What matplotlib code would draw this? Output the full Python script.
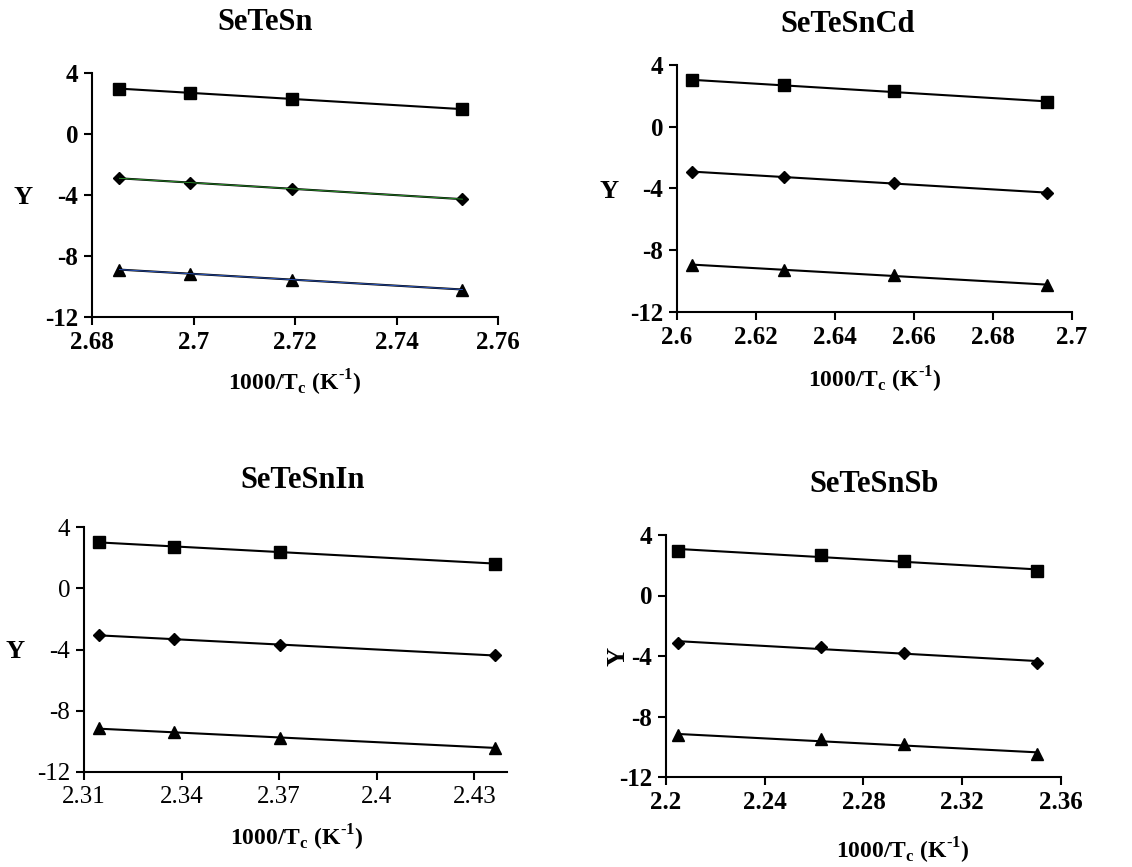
import numpy as np
import matplotlib
matplotlib.use('Agg')
import matplotlib.pyplot as plt

plt.rcParams['font.family'] = ['Liberation Serif', 'DejaVu Serif']
plt.rcParams['mathtext.fontset'] = 'custom'
plt.rcParams['mathtext.rm'] = 'Liberation Serif'
plt.rcParams['mathtext.bf'] = 'Liberation Serif:bold'

TITLES = ['SeTeSn', 'SeTeSnCd', 'SeTeSnIn', 'SeTeSnSb']

# 1000/Tc values per panel
X_SN = [2.6854, 2.6994, 2.7195, 2.7530]
X_CD = [2.6037, 2.6272, 2.6549, 2.6937]
X_IN = [2.3145, 2.3376, 2.3702, 2.4363]
X_SB = [2.2047, 2.2629, 2.2963, 2.3503]

# Y values: square, diamond, triangle series
SQ_SN = [2.98, 2.69, 2.30, 1.63]
DI_SN = [-2.91, -3.19, -3.58, -4.28]
TR_SN = [-8.90, -9.15, -9.55, -10.20]

SQ_CD = [3.01, 2.69, 2.30, 1.61]
DI_CD = [-2.94, -3.24, -3.63, -4.30]
TR_CD = [-8.97, -9.25, -9.60, -10.27]

SQ_IN = [3.00, 2.72, 2.37, 1.61]
DI_IN = [-3.07, -3.31, -3.71, -4.38]
TR_IN = [-9.15, -9.41, -9.78, -10.41]

SQ_SB = [2.97, 2.68, 2.29, 1.63]
DI_SB = [-3.14, -3.38, -3.78, -4.44]
TR_SB = [-9.25, -9.52, -9.85, -10.46]

X_TICKS = [
    [2.68, 2.70, 2.72, 2.74, 2.76],
    [2.60, 2.62, 2.64, 2.66, 2.68, 2.70],
    [2.31, 2.34, 2.37, 2.40, 2.43],
    [2.20, 2.24, 2.28, 2.32, 2.36],
]
X_TICKLABELS = [
    ['2.68', '2.7', '2.72', '2.74', '2.76'],
    ['2.6', '2.62', '2.64', '2.66', '2.68', '2.7'],
    ['2.31', '2.34', '2.37', '2.4', '2.43'],
    ['2.2', '2.24', '2.28', '2.32', '2.36'],
]
X_LIMS = [(2.68, 2.76), (2.60, 2.70), (2.31, 2.44), (2.20, 2.36)]
Y_TICKS = [4, 0, -4, -8, -12]

XS = [X_SN, X_CD, X_IN, X_SB]
SERIES = [
    [SQ_SN, DI_SN, TR_SN],
    [SQ_CD, DI_CD, TR_CD],
    [SQ_IN, DI_IN, TR_IN],
    [SQ_SB, DI_SB, TR_SB],
]

W, H = 1132, 867
AX_BOXES = [  # left, top, right, bottom in pixels from top-left
    (92, 73, 498, 317),
    (677, 65, 1072, 312),
    (84, 527, 507, 772),
    (666, 535, 1061, 777),
]
TITLE_POS = [(265, 23), (848, 25), (303, 480), (874, 485)]
XLABEL_POS = [(295, 383), (875, 380), (297, 838), (903, 851)]
YLABEL_POS = [(23, 197), (609, 192), (15, 651), (618, 656)]
YLABEL_ROT = [0, 0, 0, 90]
BOLD_TICKS = [True, True, False, True]

MARKERS = [('s', 8.5), ('D', 6), ('^', 8.5)]
TINT = [None, '#2e9e2e', '#2f5fd0']

fig = plt.figure(figsize=(W / 100, H / 100), dpi=100)

for i in range(4):
    x0, y0, x1, y1 = AX_BOXES[i]
    ax = fig.add_axes([x0 / W, 1 - y1 / H, (x1 - x0) / W, (y1 - y0) / H])
    x = np.array(XS[i])
    for j, y in enumerate(SERIES[i]):
        coef = np.polyfit(x, y, 1)
        xf = np.array([x[0], x[-1]])
        ax.plot(xf, np.polyval(coef, xf), color='black', lw=1.5, zorder=2)
        m, ms = MARKERS[j]
        ax.plot(x, y, linestyle='none', marker=m, ms=ms, color='black', zorder=3)
        if i == 0 and TINT[j]:
            ax.plot(xf, np.polyval(coef, xf), color=TINT[j], lw=0.6, zorder=4)
    ax.set_xlim(*X_LIMS[i])
    ax.set_ylim(-12, 4)
    ax.set_yticks(Y_TICKS)
    ax.set_xticks(X_TICKS[i])
    wt = 'bold' if BOLD_TICKS[i] else 'normal'
    ax.set_xticklabels(X_TICKLABELS[i], fontsize=18, fontweight=wt)
    ax.set_yticklabels([str(v) for v in Y_TICKS], fontsize=18, fontweight=wt)
    for s in ['top', 'right']:
        ax.spines[s].set_visible(False)
    for s in ['left', 'bottom']:
        ax.spines[s].set_linewidth(1.5)
    ax.tick_params(direction='out', length=6, width=1.5, pad=4)

    tx, ty = TITLE_POS[i]
    fig.text(tx / W, 1 - ty / H, TITLES[i], ha='center', va='center',
             fontsize=22, fontweight='bold')
    lx, ly = XLABEL_POS[i]
    fig.text(lx / W, 1 - ly / H, '1000/T$_{\\mathbf{c}}$ (K$^{\\mathbf{\u20101}}$)',
             ha='center', va='center', fontsize=17, fontweight='bold')
    yx, yy = YLABEL_POS[i]
    fig.text(yx / W, 1 - yy / H, 'Y', ha='center', va='center',
             fontsize=19, fontweight='bold', rotation=YLABEL_ROT[i])

fig.savefig('out.png', dpi=100)
